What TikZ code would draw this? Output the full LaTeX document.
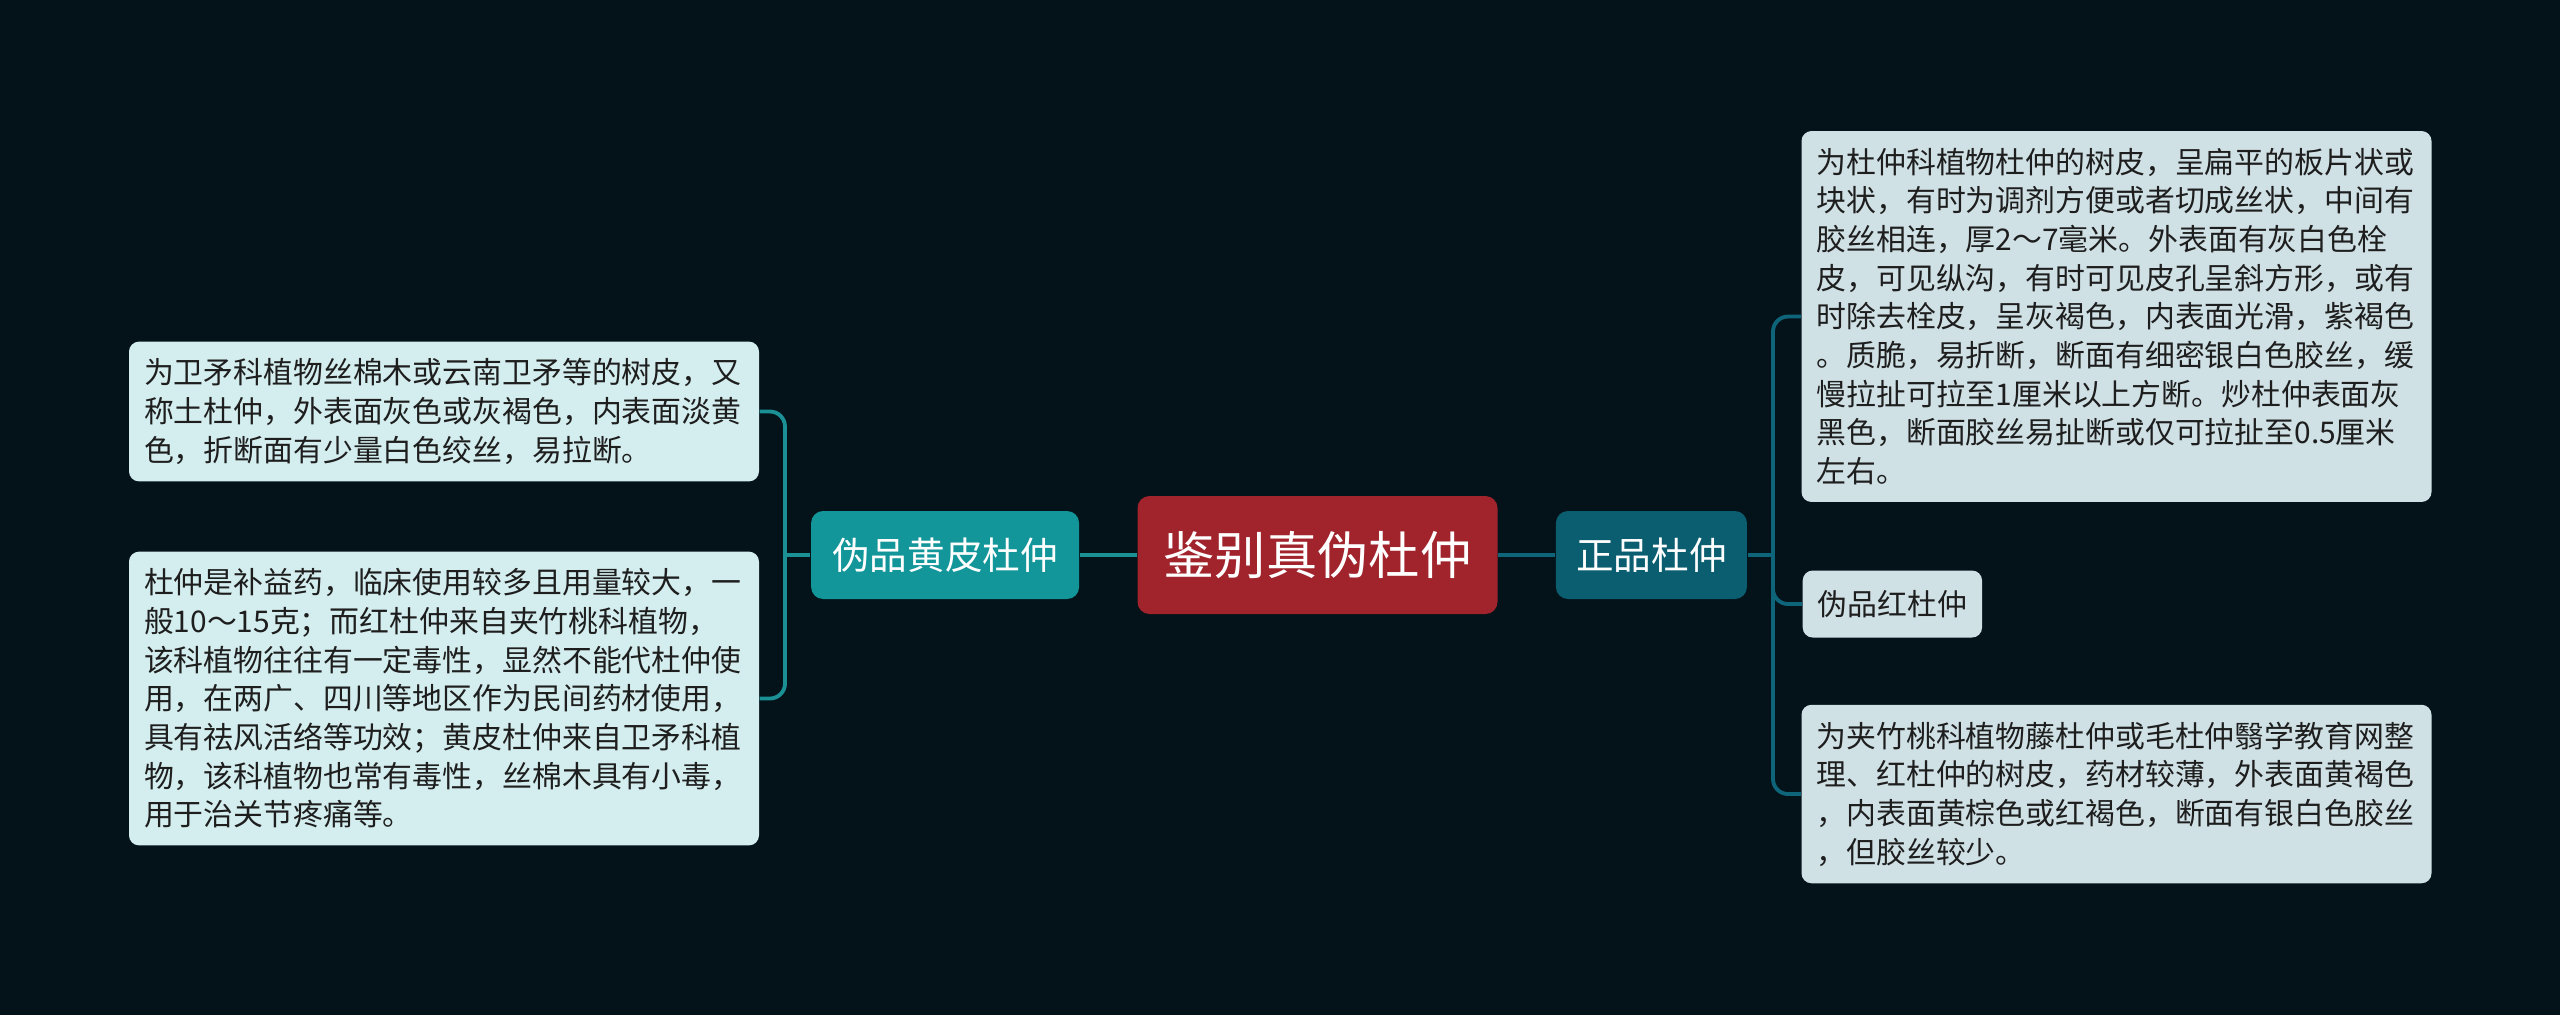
\documentclass[tikz,border=0pt]{standalone}
\usepackage{fontspec}
\setmainfont{Noto Sans CJK SC}
\usetikzlibrary{positioning}
\definecolor{bgdark}{HTML}{04121A}
\definecolor{rootred}{HTML}{A1232B}
\definecolor{fakteal}{HTML}{12969A}
\definecolor{realteal}{HTML}{0B5E70}
\definecolor{fakleaf}{HTML}{D4EDEE}
\definecolor{realleaf}{HTML}{D0E1E6}
\definecolor{fakline}{HTML}{1B9095}
\definecolor{realline}{HTML}{0E6478}
\definecolor{leaftext}{HTML}{1E1E1E}
\tikzset{
  rootbox/.style={fill=rootred,rounded corners=0.12cm,inner sep=0pt,
                  minimum width=3.6cm,minimum height=1.18cm,text=white,
                  font=\fontsize{14.6pt}{16pt}\selectfont},
  branchbox/.style={rounded corners=0.12cm,inner sep=0pt,minimum height=0.88cm,
                    text=white,font=\fontsize{10.7pt}{12pt}\selectfont},
  leafbox/.style={rounded corners=0.1cm,inner xsep=0.15cm,inner ysep=0.17cm,
                  text width=6cm,align=left,text=leaftext,
                  font=\fontsize{8.5pt}{11pt}\selectfont},
  fakelink/.style={draw=fakline,line width=1.1pt},
  reallink/.style={draw=realline,line width=1.1pt},
}
\begin{document}
\begin{tikzpicture}[node distance=0.57cm]
  \fill[bgdark] (0,0) rectangle (25.6,-10.15);
  \useasboundingbox (0,0) rectangle (25.6,-10.15);

  \node[rootbox] (root) at (13.175,-5.55) {鉴别真伪杜仲};
  \node[branchbox,fill=fakteal,minimum width=2.68cm,left=of root] (fake) {伪品黄皮杜仲};
  \node[branchbox,fill=realteal,minimum width=1.91cm,right=of root] (real) {正品杜仲};

  % left side
  \node[leafbox,fill=fakleaf] (fakeA) at (4.44,-4.115)
    {为卫矛科植物丝棉木或云南卫矛等的树皮，又\\
     称土杜仲，外表面灰色或灰褐色，内表面淡黄\\
     色，折断面有少量白色绞丝，易拉断。};
  \node[leafbox,fill=fakleaf] (fakeB) at (4.44,-6.985)
    {杜仲是补益药，临床使用较多且用量较大，一\\
     般10～15克；而红杜仲来自夹竹桃科植物，\\
     该科植物往往有一定毒性，显然不能代杜仲使\\
     用，在两广、四川等地区作为民间药材使用，\\
     具有祛风活络等功效；黄皮杜仲来自卫矛科植\\
     物，该科植物也常有毒性，丝棉木具有小毒，\\
     用于治关节疼痛等。};

  % right side
  \node[leafbox,fill=realleaf] (realA) at (21.165,-3.165)
    {为杜仲科植物杜仲的树皮，呈扁平的板片状或\\
     块状，有时为调剂方便或者切成丝状，中间有\\
     胶丝相连，厚2～7毫米。外表面有灰白色栓\\
     皮，可见纵沟，有时可见皮孔呈斜方形，或有\\
     时除去栓皮，呈灰褐色，内表面光滑，紫褐色\\
     。质脆，易折断，断面有细密银白色胶丝，缓\\
     慢拉扯可拉至1厘米以上方断。炒杜仲表面灰\\
     黑色，断面胶丝易扯断或仅可拉扯至0.5厘米\\
     左右。};
  \node[leafbox,fill=realleaf,text width=,minimum height=0.67cm,anchor=west] (realB)
    at (18.02,-6.04) {伪品红杜仲};
  \node[leafbox,fill=realleaf] (realC) at (21.165,-7.94)
    {为夹竹桃科植物藤杜仲或毛杜仲翳学教育网整\\
     理、红杜仲的树皮，药材较薄，外表面黄褐色\\
     ，内表面黄棕色或红褐色，断面有银白色胶丝\\
     ，但胶丝较少。};

  \coordinate (jl) at (7.85,-5.55);
  \coordinate (jr) at (17.73,-5.55);

  \draw[fakelink] (root) -- (fake);
  \draw[reallink] (root) -- (real);
  \draw[fakelink] (fake.west) -- (jl);
  \draw[fakelink,rounded corners=0.15cm] (fakeA.east) -| (jl) |- (fakeB.east);
  \draw[reallink] (real.east) -- (jr);
  \draw[reallink,rounded corners=0.15cm] (realA.west) -| (jr) |- (realC.west);
  \draw[reallink,rounded corners=0.15cm] (jr) |- (realB.west);
\end{tikzpicture}
\end{document}
